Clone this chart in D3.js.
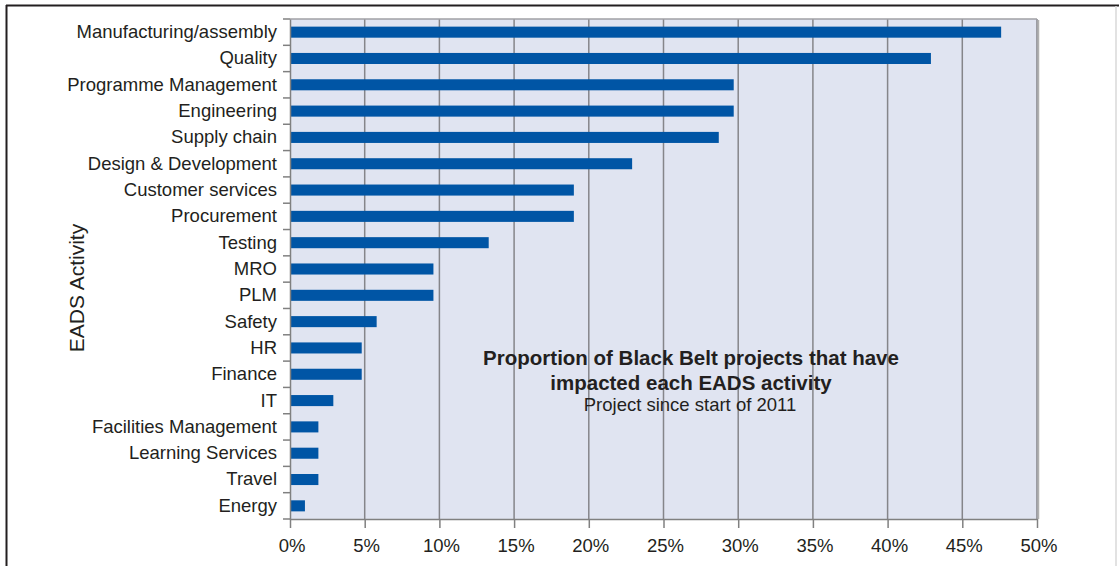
<!DOCTYPE html>
<html><head><meta charset="utf-8">
<script src="https://cdn.jsdelivr.net/npm/d3@7"></script>
<style>body{margin:0;background:#fff;} svg{display:block;font-family:"Liberation Sans",Arial,sans-serif;}</style>
</head><body>
<svg id="c" width="1119" height="566"></svg>
<script>
const categories = ["Manufacturing/assembly","Quality","Programme Management","Engineering","Supply chain","Design & Development","Customer services","Procurement","Testing","MRO","PLM","Safety","HR","Finance","IT","Facilities Management","Learning Services","Travel","Energy"];
const values = [47.6,42.9,29.7,29.7,28.7,22.9,19.0,19.0,13.3,9.6,9.6,5.8,4.8,4.8,2.9,1.9,1.9,1.9,1.0];
const xTicks = [0,5,10,15,20,25,30,35,40,45,50];
const titleLines = ["Proportion of Black Belt projects that have","impacted each EADS activity"];
const subtitle = "Project since start of 2011";
const yTitle = "EADS Activity";

const svg = d3.select("#c");
const m = {left:290, right:1037, top:19, bottom:519};
const x = d3.scaleLinear().domain([0,50]).range([m.left,m.right]);
const y = d3.scaleBand().domain(categories).range([m.top,m.bottom]).paddingInner(0.58).paddingOuter(0.29);

// outer frame
svg.append("line").attr("x1",6).attr("x2",1119).attr("y1",5.5).attr("y2",5.5).attr("stroke","#231f20").attr("stroke-width",2);
svg.append("line").attr("x1",6.5).attr("x2",6.5).attr("y1",5).attr("y2",566).attr("stroke","#231f20").attr("stroke-width",2);
svg.append("line").attr("x1",1116).attr("x2",1116).attr("y1",6).attr("y2",566).attr("stroke","#d8d8d8").attr("stroke-width",1.5);

// plot background
svg.append("rect").attr("x",m.left).attr("y",m.top).attr("width",m.right-m.left).attr("height",m.bottom-m.top).attr("fill","#e0e4f1");

// gridlines
svg.append("g").selectAll("line").data(xTicks.slice(1)).join("line")
  .attr("x1",d=>x(d)).attr("x2",d=>x(d)).attr("y1",m.top).attr("y2",m.bottom)
  .attr("stroke","#85858a").attr("stroke-width",1.5);
// top border
svg.append("line").attr("x1",m.left).attr("x2",m.right).attr("y1",m.top).attr("y2",m.top).attr("stroke","#a0a0a4").attr("stroke-width",1.5);
svg.append("line").attr("x1",m.right+1.5).attr("x2",m.right+1.5).attr("y1",m.top+1).attr("y2",m.bottom).attr("stroke","#b0b0b0").attr("stroke-width",1.5);

// bars
svg.append("g").selectAll("rect").data(categories).join("rect")
  .attr("x",x(0)).attr("y",d=>y(d)).attr("height",y.bandwidth())
  .attr("width",(d,i)=>x(values[i])-x(0)).attr("fill","#0055a5");

// x axis
const xa = svg.append("g").attr("transform",`translate(0,${m.bottom})`)
  .call(d3.axisBottom(x).tickValues(xTicks).tickFormat(d=>d+"%").tickSize(9).tickSizeOuter(0).tickPadding(10.5));
xa.select(".domain").attr("stroke","#808080").attr("stroke-width",1.5);
xa.selectAll(".tick line").attr("stroke","#808080").attr("stroke-width",1.5);
xa.selectAll("text").attr("font-size",18.5).attr("dx",1.5).attr("fill","#231f20").attr("font-family","Liberation Sans, Arial, sans-serif");

// y axis
const ya = svg.append("g").attr("transform",`translate(${m.left},0)`)
  .call(d3.axisLeft(y).tickSize(0).tickPadding(13));
ya.select(".domain").attr("stroke","#808080").attr("stroke-width",1.5);
ya.selectAll("text").attr("font-size",18.5).attr("fill","#231f20").attr("font-family","Liberation Sans, Arial, sans-serif");
// boundary ticks
const bounds = d3.range(categories.length+1).map(i=>m.top + (m.bottom-m.top)*i/categories.length);
svg.append("g").selectAll("line").data(bounds).join("line")
  .attr("x1",m.left-7).attr("x2",m.left).attr("y1",d=>d).attr("y2",d=>d)
  .attr("stroke","#808080").attr("stroke-width",1.5);

// y title
svg.append("text").attr("transform","translate(84,288) rotate(-90)").attr("text-anchor","middle")
  .attr("font-size",21).attr("fill","#231f20").text(yTitle);

// chart title
svg.append("g").selectAll("text").data(titleLines).join("text")
  .attr("x",691).attr("y",(d,i)=>364.5+i*25.5).attr("text-anchor","middle")
  .attr("font-size",20.5).attr("font-weight","bold").attr("fill","#231f20").text(d=>d);
svg.append("text").attr("x",690).attr("y",411).attr("text-anchor","middle")
  .attr("font-size",18.5).attr("fill","#231f20").text(subtitle);
</script>
</body></html>
